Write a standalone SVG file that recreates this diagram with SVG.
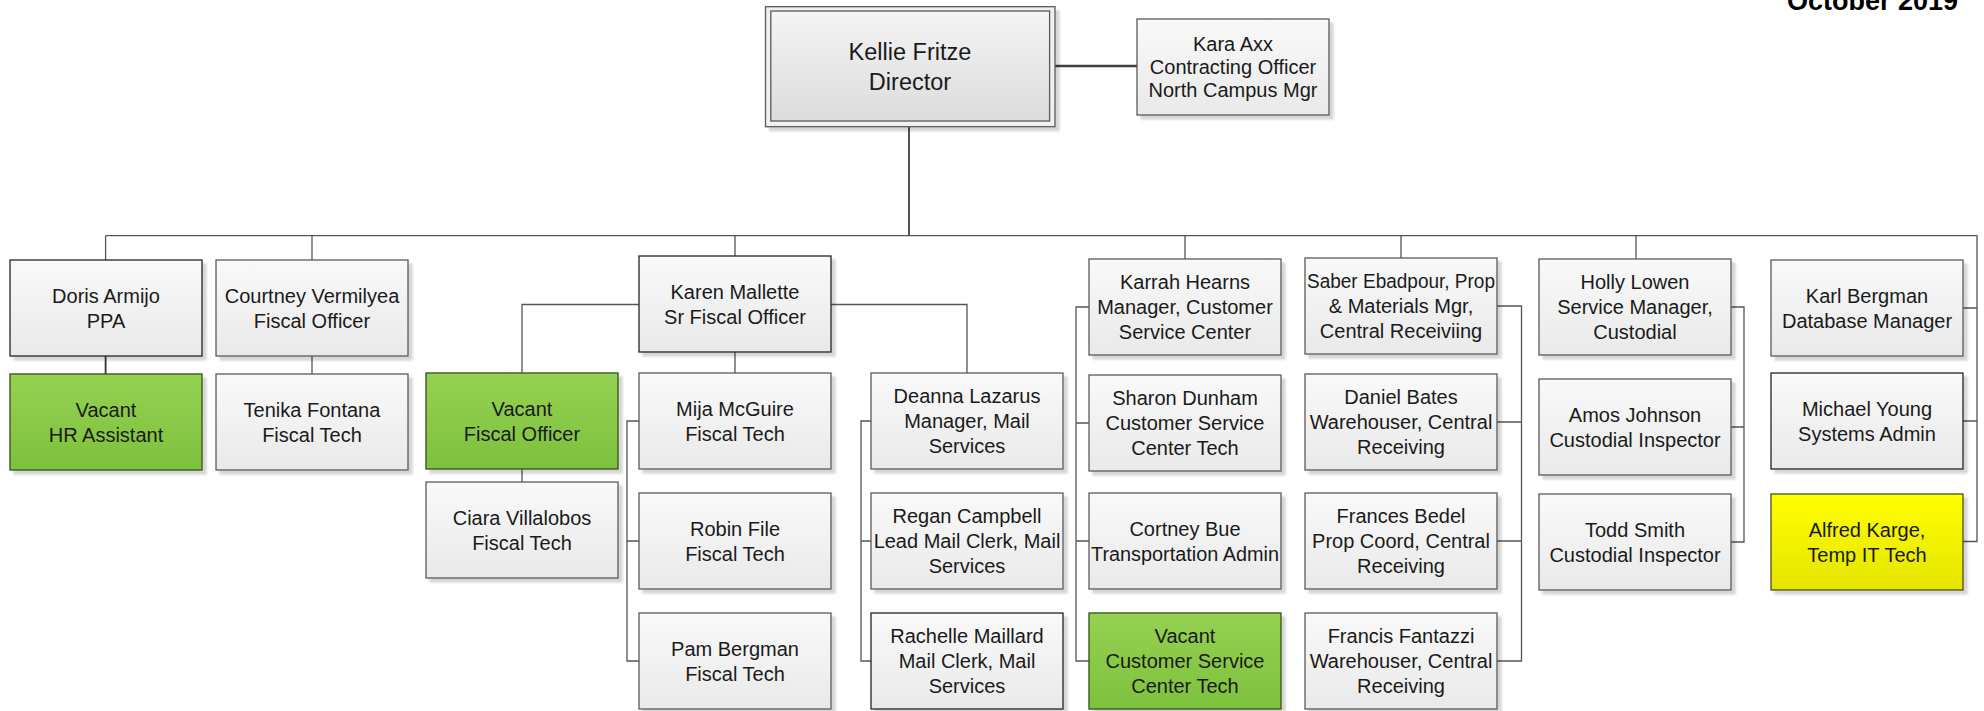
<svg xmlns="http://www.w3.org/2000/svg" width="1984" height="711" viewBox="0 0 1984 711">
<defs>
<linearGradient id="gGray" x1="0" y1="0" x2="0" y2="1"><stop offset="0" stop-color="#f9f9f9"/><stop offset="1" stop-color="#e9e9e9"/></linearGradient>
<linearGradient id="gDir" x1="0" y1="0" x2="0" y2="1"><stop offset="0" stop-color="#f4f4f4"/><stop offset="1" stop-color="#dcdcdc"/></linearGradient>
<linearGradient id="gGreen" x1="0" y1="0" x2="0" y2="1"><stop offset="0" stop-color="#96d152"/><stop offset="1" stop-color="#7dc13c"/></linearGradient>
<linearGradient id="gYellow" x1="0" y1="0" x2="0" y2="1"><stop offset="0" stop-color="#ffff00"/><stop offset="1" stop-color="#e4e400"/></linearGradient>
<filter id="sh" x="-5%" y="-5%" width="115%" height="120%"><feDropShadow dx="4" dy="4" stdDeviation="0.8" flood-color="#000" flood-opacity="0.16"/></filter>
</defs>
<style>
.b{fill:url(#gGray);stroke:#5a5a5a;stroke-width:1.3;filter:url(#sh)}
.g{fill:url(#gGreen);stroke:#3d5a1e;stroke-width:1.4;filter:url(#sh)}
.y{fill:url(#gYellow);stroke:#4d4d1a;stroke-width:1.3;filter:url(#sh)}
.d{stroke:#222}
.t{font-family:"Liberation Sans",Arial,sans-serif;font-size:20px;text-anchor:middle;fill:#1a1a1a}
.c{fill:none;stroke:#555;stroke-width:1.3}
</style>
<text x="1958" y="10" style="font-family:'Liberation Sans',Arial,sans-serif;font-weight:bold;font-size:27px;text-anchor:end;fill:#000">October 2019</text>
<g id="connectors">
<path class="c" d="M105.6,235.7 H1977 V541.5 H1963 M1963,308 H1977 M1963,421 H1977"/>
<path class="c" style="stroke:#404040;stroke-width:1.8" d="M909,127 V235.7"/>
<path class="c" style="stroke:#404040;stroke-width:2.6" d="M1055,66 H1137"/>
<path class="c" d="M105.6,235.7 V260 M312,235.7 V260 M735,235.7 V256 M1185,235.7 V259 M1401,235.7 V258 M1636,235.7 V259"/>
<path class="c" style="stroke:#333;stroke-width:1.8" d="M105.6,356 V374"/>
<path class="c" d="M312,356 V374 M735,352 V373 M639,304.5 H522 V373 M522,469 V482 M831,304.5 H967 V373"/>
<path class="c" d="M639,421 H627 V661 H639 M627,541 H639"/>
<path class="c" d="M871,421 H861 V661 H871 M861,541 H871"/>
<path class="c" d="M1089,307 H1076 V661 H1089 M1076,423 H1089 M1076,541 H1089"/>
<path class="c" d="M1497,306 H1521.5 V661 H1497 M1497,422 H1521.5 M1497,541 H1521.5"/>
<path class="c" d="M1731,307 H1744 V542 H1731 M1731,427 H1744"/>
</g>
<g id="director">
<rect x="765.5" y="6.7" width="289.5" height="120" fill="#f0f0f0" stroke="#5a5a5a" stroke-width="1.3" filter="url(#sh)"/>
<rect x="770.8" y="11" width="278.8" height="110" fill="url(#gDir)" stroke="#5a5a5a" stroke-width="1.3"/>
<text class="t" style="font-size:23.5px" x="910" y="60">Kellie Fritze</text>
<text class="t" style="font-size:23.5px" x="910" y="90">Director</text>
</g>
<g id="kara"><rect class="b" x="1137" y="19" width="192" height="96"/><text class="t" x="1233" y="50.5">Kara Axx</text><text class="t" x="1233" y="73.5">Contracting Officer</text><text class="t" x="1233" y="96.5">North Campus Mgr</text></g>
<g id="doris"><rect class="b d" x="10" y="260" width="192" height="96"/><text class="t" x="106" y="302.5">Doris Armijo</text><text class="t" x="106" y="327.5">PPA</text></g>
<g id="vacant-hr"><rect class="g" x="10" y="374" width="192" height="96"/><text class="t" x="106" y="416.5">Vacant</text><text class="t" x="106" y="441.5">HR Assistant</text></g>
<g id="courtney"><rect class="b" x="216" y="260" width="192" height="96"/><text class="t" x="312" y="302.5">Courtney Vermilyea</text><text class="t" x="312" y="327.5">Fiscal Officer</text></g>
<g id="tenika"><rect class="b" x="216" y="374" width="192" height="96"/><text class="t" x="312" y="416.5">Tenika Fontana</text><text class="t" x="312" y="441.5">Fiscal Tech</text></g>
<g id="vacant-fiscal"><rect class="g" x="426" y="373" width="192" height="96"/><text class="t" x="522" y="415.5">Vacant</text><text class="t" x="522" y="440.5">Fiscal Officer</text></g>
<g id="ciara"><rect class="b" x="426" y="482" width="192" height="96"/><text class="t" x="522" y="524.5">Ciara Villalobos</text><text class="t" x="522" y="549.5">Fiscal Tech</text></g>
<g id="karen"><rect class="b d" x="639" y="256" width="192" height="96"/><text class="t" x="735" y="298.5">Karen Mallette</text><text class="t" x="735" y="323.5">Sr Fiscal Officer</text></g>
<g id="mija"><rect class="b" x="639" y="373" width="192" height="96"/><text class="t" x="735" y="415.5">Mija McGuire</text><text class="t" x="735" y="440.5">Fiscal Tech</text></g>
<g id="robin"><rect class="b" x="639" y="493" width="192" height="96"/><text class="t" x="735" y="535.5">Robin File</text><text class="t" x="735" y="560.5">Fiscal Tech</text></g>
<g id="pam"><rect class="b" x="639" y="613" width="192" height="96"/><text class="t" x="735" y="655.5">Pam Bergman</text><text class="t" x="735" y="680.5">Fiscal Tech</text></g>
<g id="deanna"><rect class="b" x="871" y="373" width="192" height="96"/><text class="t" x="967" y="403">Deanna Lazarus</text><text class="t" x="967" y="428">Manager, Mail</text><text class="t" x="967" y="453">Services</text></g>
<g id="regan"><rect class="b" x="871" y="493" width="192" height="96"/><text class="t" x="967" y="523">Regan Campbell</text><text class="t" x="967" y="548">Lead Mail Clerk, Mail</text><text class="t" x="967" y="573">Services</text></g>
<g id="rachelle"><rect class="b d" x="871" y="613" width="192" height="96"/><text class="t" x="967" y="643">Rachelle Maillard</text><text class="t" x="967" y="668">Mail Clerk, Mail</text><text class="t" x="967" y="693">Services</text></g>
<g id="karrah"><rect class="b" x="1089" y="259" width="192" height="96"/><text class="t" x="1185" y="289">Karrah Hearns</text><text class="t" x="1185" y="314">Manager, Customer</text><text class="t" x="1185" y="339">Service Center</text></g>
<g id="sharon"><rect class="b" x="1089" y="375" width="192" height="96"/><text class="t" x="1185" y="405">Sharon Dunham</text><text class="t" x="1185" y="430">Customer Service</text><text class="t" x="1185" y="455">Center Tech</text></g>
<g id="cortney"><rect class="b" x="1089" y="493" width="192" height="96"/><text class="t" x="1185" y="535.5">Cortney Bue</text><text class="t" x="1185" y="560.5" textLength="188" lengthAdjust="spacingAndGlyphs">Transportation Admin</text></g>
<g id="vacant-csc"><rect class="g" x="1089" y="613" width="192" height="96"/><text class="t" x="1185" y="643">Vacant</text><text class="t" x="1185" y="668">Customer Service</text><text class="t" x="1185" y="693">Center Tech</text></g>
<g id="saber"><rect class="b" x="1305" y="258" width="192" height="96"/><text class="t" x="1401" y="288" textLength="188" lengthAdjust="spacingAndGlyphs">Saber Ebadpour, Prop</text><text class="t" x="1401" y="313">&amp; Materials Mgr,</text><text class="t" x="1401" y="338">Central Receiviing</text></g>
<g id="daniel"><rect class="b" x="1305" y="374" width="192" height="96"/><text class="t" x="1401" y="404">Daniel Bates</text><text class="t" x="1401" y="429">Warehouser, Central</text><text class="t" x="1401" y="454">Receiving</text></g>
<g id="frances"><rect class="b" x="1305" y="493" width="192" height="96"/><text class="t" x="1401" y="523">Frances Bedel</text><text class="t" x="1401" y="548">Prop Coord, Central</text><text class="t" x="1401" y="573">Receiving</text></g>
<g id="francis"><rect class="b" x="1305" y="613" width="192" height="96"/><text class="t" x="1401" y="643">Francis Fantazzi</text><text class="t" x="1401" y="668">Warehouser, Central</text><text class="t" x="1401" y="693">Receiving</text></g>
<g id="holly"><rect class="b" x="1539" y="259" width="192" height="96"/><text class="t" x="1635" y="289">Holly Lowen</text><text class="t" x="1635" y="314">Service Manager,</text><text class="t" x="1635" y="339">Custodial</text></g>
<g id="amos"><rect class="b" x="1539" y="379" width="192" height="96"/><text class="t" x="1635" y="421.5">Amos Johnson</text><text class="t" x="1635" y="446.5">Custodial Inspector</text></g>
<g id="todd"><rect class="b" x="1539" y="494" width="192" height="96"/><text class="t" x="1635" y="536.5">Todd Smith</text><text class="t" x="1635" y="561.5">Custodial Inspector</text></g>
<g id="karl"><rect class="b" x="1771" y="260" width="192" height="96"/><text class="t" x="1867" y="302.5">Karl Bergman</text><text class="t" x="1867" y="327.5">Database Manager</text></g>
<g id="michael"><rect class="b d" x="1771" y="373" width="192" height="96"/><text class="t" x="1867" y="415.5">Michael Young</text><text class="t" x="1867" y="440.5">Systems Admin</text></g>
<g id="alfred"><rect class="y" x="1771" y="494" width="192" height="96"/><text class="t" x="1867" y="536.5">Alfred Karge,</text><text class="t" x="1867" y="561.5">Temp IT Tech</text></g>
</svg>
